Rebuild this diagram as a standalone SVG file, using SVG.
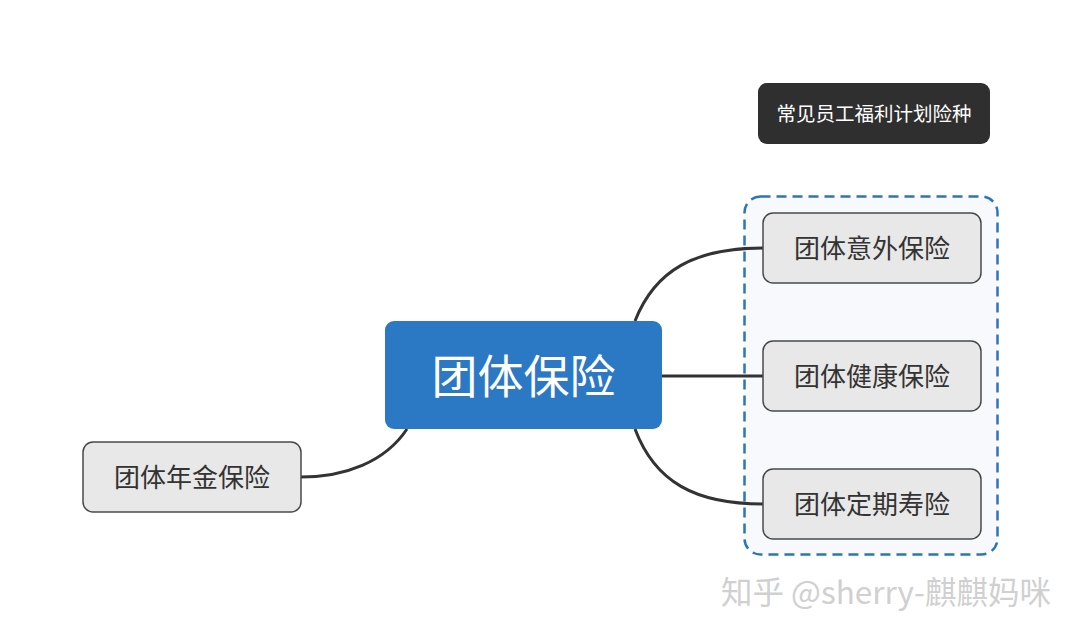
<svg xmlns="http://www.w3.org/2000/svg" width="1080" height="638" viewBox="0 0 1080 638">
<style>
.t{font-family:"Noto Sans CJK SC","Liberation Sans",sans-serif;text-anchor:middle;dominant-baseline:central}
.child rect{fill:#e8e8e8;stroke:#4a4a4a;stroke-width:1.5}
.child text{font-size:26px;fill:#333}
.conn path{fill:none;stroke:#333;stroke-width:3}
</style>
<rect width="1080" height="638" fill="#fff"/>
<g id="legend">
<rect x="758" y="83" width="232" height="61" rx="9" fill="#2f2f2f"/>
<text class="t" x="874" y="112" font-size="19.5" fill="#fff">常见员工福利计划险种</text>
</g>
<g id="group">
<rect x="744.5" y="196.5" width="253" height="358" rx="16" fill="#f7f9fd" stroke="#2e75b6" stroke-width="2.5" stroke-dasharray="10,6"/>
</g>
<g class="conn" id="connectors">
<path d="M635 321 C655 270,695 248,763 248"/>
<path d="M662 376 L763 376"/>
<path d="M635 429 C655 482,695 504,763 504"/>
<path d="M407 429 C385 462,345 477,301 477"/>
</g>
<g id="center">
<rect x="385" y="321" width="277" height="108" rx="9" fill="#2b78c5"/>
<text class="t" x="523.5" y="373" font-size="46" fill="#fff">团体保险</text>
</g>
<g id="n1" class="child">
<rect x="763" y="213" width="218" height="70" rx="10"/>
<text class="t" x="872" y="246">团体意外保险</text>
</g>
<g id="n2" class="child">
<rect x="763" y="341" width="218" height="70" rx="10"/>
<text class="t" x="872" y="374">团体健康保险</text>
</g>
<g id="n3" class="child">
<rect x="763" y="469" width="218" height="70" rx="10"/>
<text class="t" x="872" y="502">团体定期寿险</text>
</g>
<g id="n4" class="child">
<rect x="83" y="442" width="218" height="70" rx="10"/>
<text class="t" x="192" y="475">团体年金保险</text>
</g>
<g id="watermark">
<text class="t" x="886" y="590" font-size="31.5" fill="#d0d0d0">知乎 @sherry-麒麒妈咪</text>
</g>
</svg>
